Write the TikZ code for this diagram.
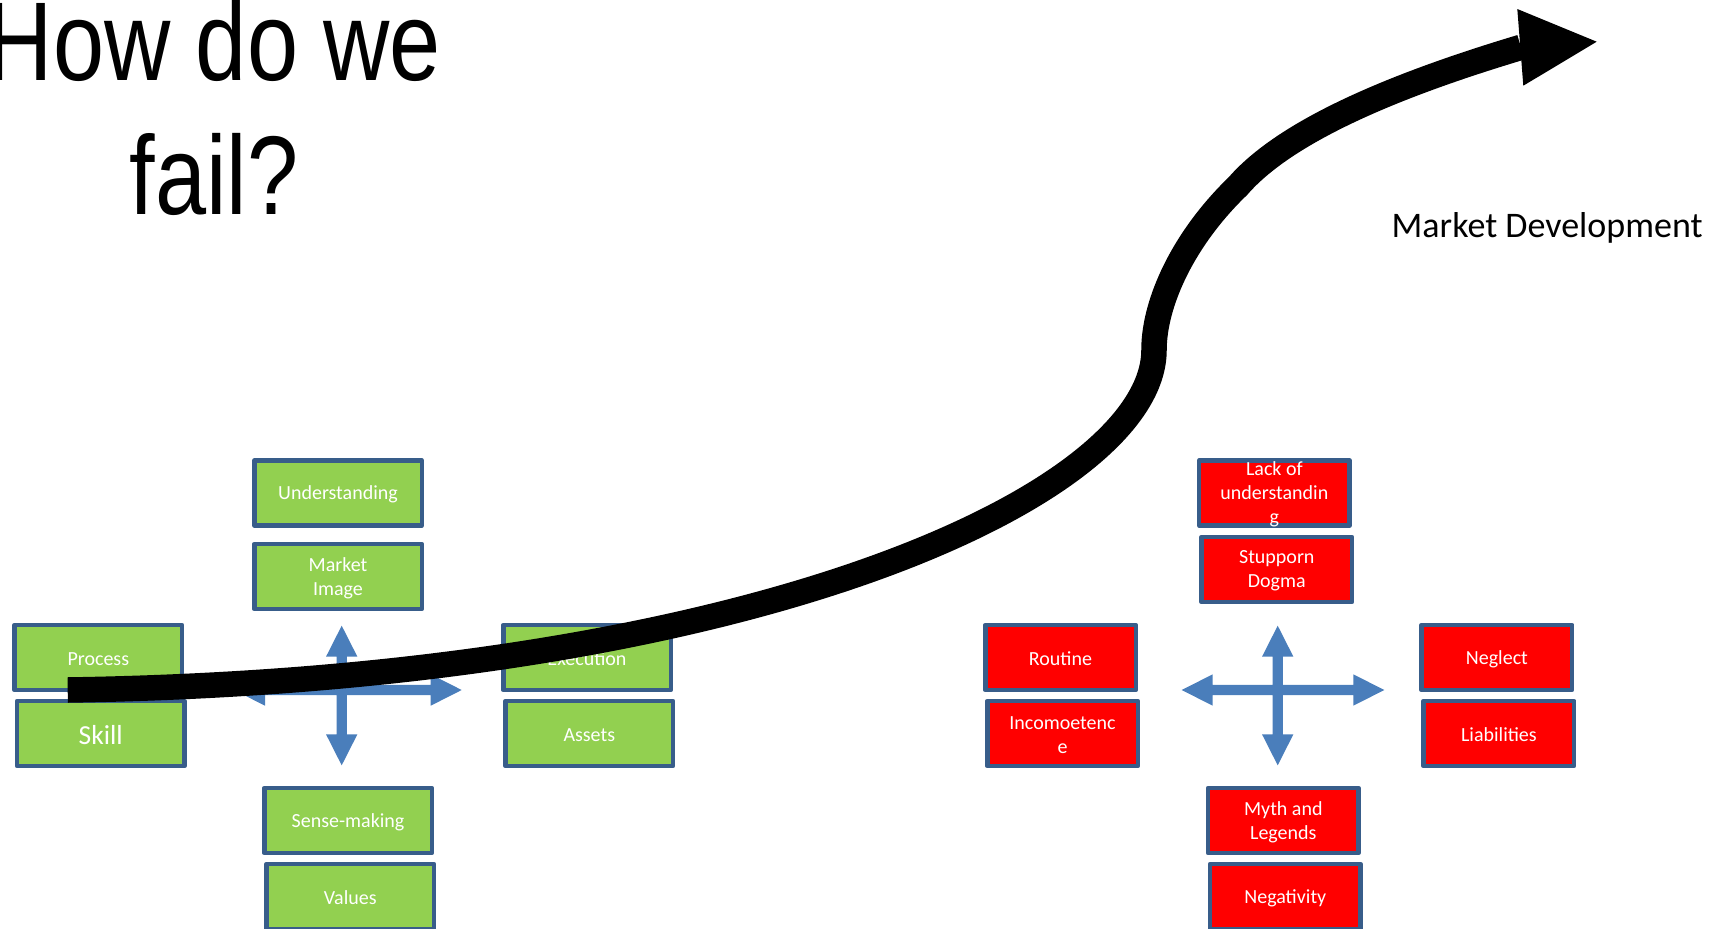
\documentclass[tikz,border=0pt]{standalone}
\usepackage{fontspec}
\setmainfont{Carlito}
\newfontfamily\titlefont{Liberation Sans}[FakeStretch=0.82]
\definecolor{boxborder}{HTML}{385D8A}
\definecolor{boxgreen}{HTML}{92D050}
\definecolor{boxred}{HTML}{FF0000}
\definecolor{crossblue}{HTML}{4A7EBB}
\newcommand{\quadarrow}[5]{%
\fill[crossblue, shift={#1}] (0,-#4) -- (15.7,-#4+31) -- (5.2,-#4+31) -- (5.2,-5.2) -- (#3-31,-5.2) -- (#3-31,-15.7) -- (#3,0) -- (#3-31,15.7) -- (#3-31,5.2) -- (5.2,5.2) -- (5.2,#5-31) -- (15.7,#5-31) -- (0,#5) -- (-15.7,#5-31) -- (-5.2,#5-31) -- (-5.2,5.2) -- (-#2+31,5.2) -- (-#2+31,15.7) -- (-#2,0) -- (-#2+31,-15.7) -- (-#2+31,-5.2) -- (-5.2,-5.2) -- (-5.2,-#4+31) -- (-15.7,-#4+31) -- cycle;}
\tikzset{
  cell/.style={draw=boxborder, line width=4.5pt, line join=round, inner sep=0pt,
    minimum height=65pt},
  gcell/.style={cell, fill=boxgreen, minimum width=167.5pt},
  rcell/.style={cell, fill=boxred, minimum width=150.5pt},
  lbl/.style={inner sep=0pt, text=white, align=center, yshift=-1.3pt,
    font=\fontsize{20}{24}\selectfont},
  txt/.style={label={[lbl]center:{#1}}},
  bigtxt/.style={label={[lbl, font=\fontsize{27.5}{33}\selectfont]center:{#1}}},
  titletext/.style={anchor=base, inner sep=0pt, font=\titlefont\fontsize{112}{134}\selectfont},
}
\begin{document}
\begin{tikzpicture}[x=1pt, y=-1pt]
\useasboundingbox (0,0) rectangle (1722,929);
\clip (0,0) rectangle (1722,929);
% cross arrows
\coordinate (gcross) at (341.7,690);
\coordinate (rcross) at (1277.7,690);
\quadarrow{(gcross)}{107.7}{120}{64.3}{75.3}
\quadarrow{(rcross)}{96}{106.6}{64.3}{75.3}
% green boxes
\node[gcell, txt={Understanding}] (understanding) at (338,493) {};
\node[gcell, txt={Market\\Image}] (marketimage) at (338,576.5) {};
\node[gcell, txt={Process}] (process) at (98.3,657.5) {};
\node[gcell, bigtxt={Skill}] (skill) at (100.7,733.5) {};
\node[gcell, txt={Execution}] (execution) at (587,657.5) {};
\node[gcell, txt={Assets}] (assets) at (589.3,733.5) {};
\node[gcell, txt={Sense-making}] (sensemaking) at (348,820.5) {};
\node[gcell, txt={Values}] (values) at (350.3,896.5) {};
% red boxes
\node[rcell, txt={Lack of\\understandin\\g}] (lack) at (1274.4,493) {};
\node[rcell, txt={Stupporn\\Dogma}] (stupporn) at (1276.8,569.5) {};
\node[rcell, txt={Routine}] (routine) at (1060.5,657.5) {};
\node[rcell, txt={Incomoetenc\\e}] (incompetence) at (1062.5,733.5) {};
\node[rcell, txt={Neglect}] (neglect) at (1496.9,657.5) {};
\node[rcell, txt={Liabilities}] (liabilities) at (1498.9,733.5) {};
\node[rcell, txt={Myth and\\Legends}] (myth) at (1283.3,820.5) {};
\node[rcell, txt={Negativity}] (negativity) at (1285.3,896.5) {};
% big curved arrow
\coordinate (cstart) at (67.7,690);
\coordinate (cbend) at (1154,350);
\coordinate (cmid) at (1238,186);
\coordinate (cend) at (1521,47.3);
\draw[line width=25.5pt] (cstart) .. controls (767.7,679.5) and (1154,490) .. (cbend)
   .. controls (1154,302) and (1184,238) .. (cmid)
   .. controls (1290,126) and (1412,80) .. (cend);
\fill (1517.3,9) -- (1596.7,41.7) -- (1523.3,85.7) -- cycle;
% texts
\node[titletext] (title1) at (214,80) {How do we};
\node[titletext] (title2) at (214,214.3) {fail?};
\node[anchor=base west, inner sep=0pt, font=\fontsize{36}{43}\selectfont] (mdev) at (1391.5,237) {Market Development};
\end{tikzpicture}
\end{document}
